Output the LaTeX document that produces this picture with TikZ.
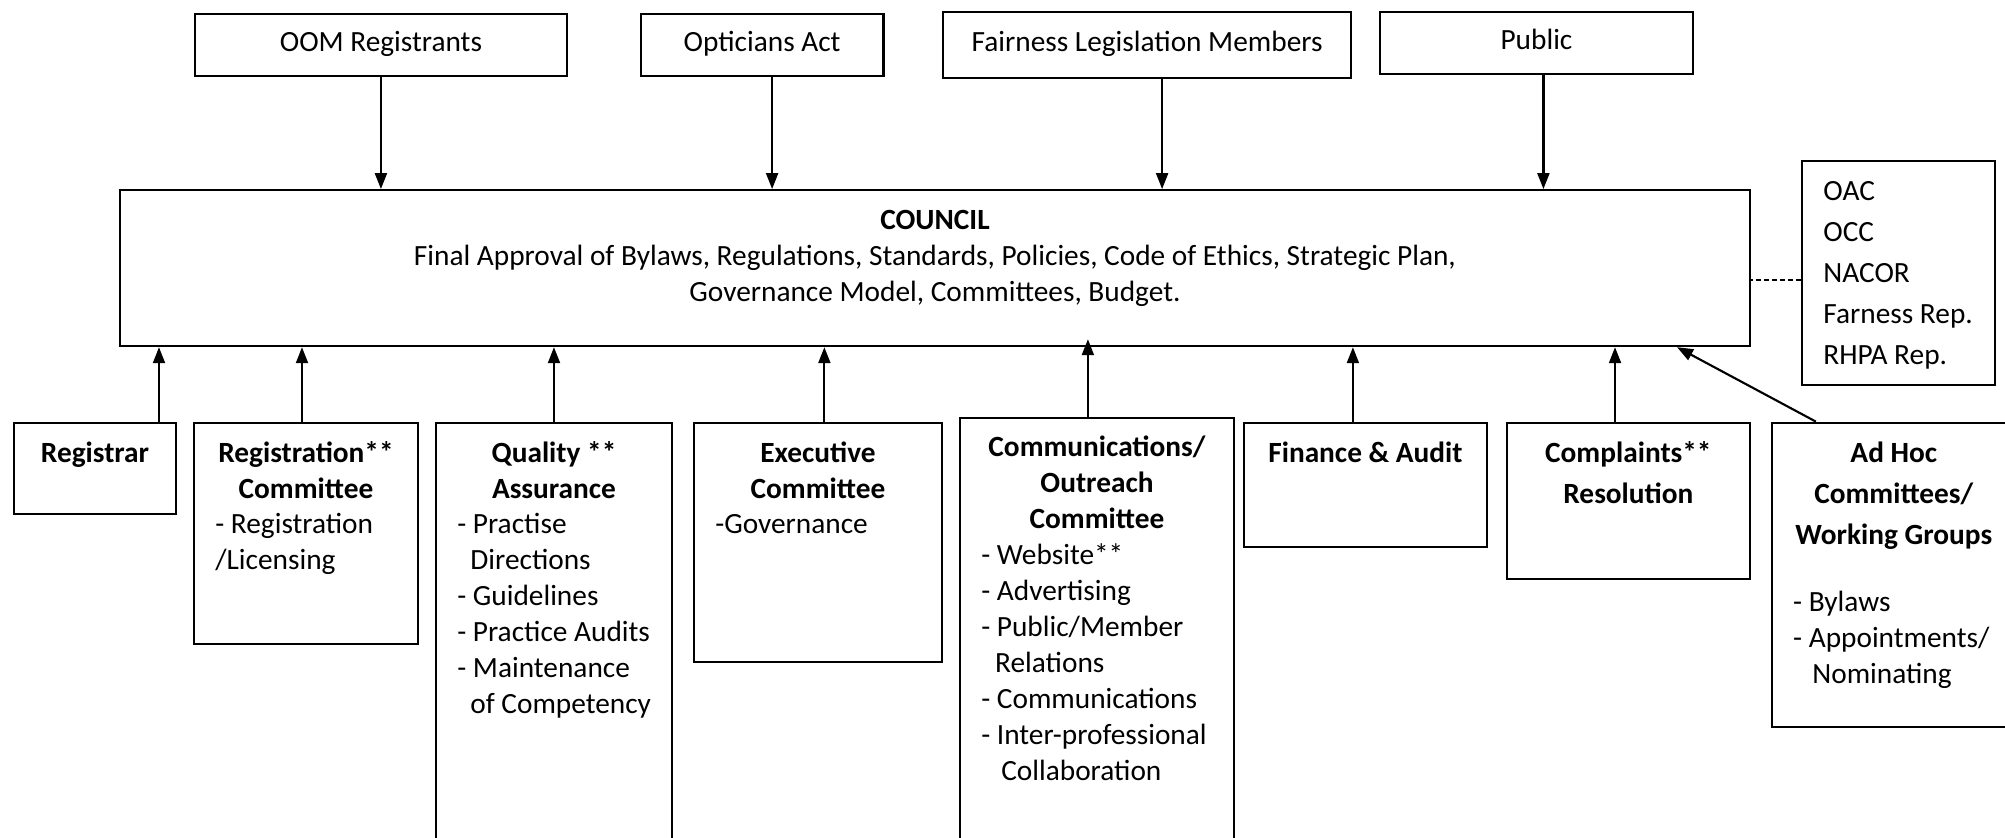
\documentclass[tikz,border=0pt]{standalone}
\usepackage{fontspec}
\setmainfont{Carlito}
\usetikzlibrary{positioning}
\usetikzlibrary{arrows.meta}

\newcommand{\boxtitle}[1]{\makebox[\linewidth]{\bfseries #1}}

\begin{document}
\begin{tikzpicture}[
    box/.style={draw, rectangle, line width=0.8pt, inner xsep=8pt, inner ysep=4pt, text height=10.75pt, align=flush left, font=\fontsize{11pt}{13.5pt}\selectfont},
    source/.style={draw, rectangle, line width=0.8pt, minimum height=23.25pt, text height=7.6pt, text depth=2.4pt, font=\fontsize{11pt}{13.5pt}\selectfont},
    link/.style={-{Triangle[length=6pt, width=4.5pt]}, line width=0.8pt}
]

    \useasboundingbox (0,0) rectangle (751.9pt,-314.25pt);

    \node[box, align=flush center, anchor=north west, text width=595.25pt, text depth=39.75pt] (council) at (44.6pt,-70.9pt) { \textbf{COUNCIL}\\Final Approval of Bylaws, Regulations, Standards, Policies, Code of Ethics, Strategic Plan,\\Governance Model, Committees, Budget. };

    \node[source, minimum width=139.5pt, above right=42pt and 28.1pt of council.north west] (oom) { OOM Registrants };
    \node[source, minimum width=91pt, right=26.9pt of oom] (optact) { Opticians Act };
    \node[source, minimum width=153pt, minimum height=24.75pt, right=21.6pt of optact] (fairness) { Fairness Legislation Members };
    \node[source, minimum width=117.4pt, right=10pt of fairness, yshift=0.8pt] (public) { Public };

    \node[box, font=\fontsize{11pt}{15.4pt}\selectfont, right=18.75pt of council.north east, anchor=north west, yshift=10.9pt, text width=56.4pt, text depth=65.25pt] (reps) { OAC\\OCC\\NACOR\\\mbox{Farness Rep.}\\\mbox{RHPA Rep.} };

    \node[box, below=27.9pt of council.south west, anchor=north west, xshift=-39.75pt, text width=44.75pt, text depth=15.4pt] (registrar) { \boxtitle{Registrar} };
    \node[box, right=5.95pt of registrar.north east, anchor=north west, text width=68pt, text depth=64.1pt] (registration) { \boxtitle{Registration**}\\\boxtitle{Committee}\\- Registration\\/Licensing };
    \node[box, right=5.95pt of registration.north east, anchor=north west, text width=72.5pt, text depth=139.9pt] (quality) { \boxtitle{Quality **}\\\boxtitle{Assurance}\\- Practise\\\hspace*{4.9pt}Directions\\- Guidelines\\\mbox{- Practice Audits}\\- Maintenance\\\hspace*{4.9pt}\mbox{of Competency} };
    \node[box, right=7.45pt of quality.north east, anchor=north west, text width=77pt, text depth=70.9pt] (executive) { \boxtitle{Executive}\\\boxtitle{Committee}\\-Governance };
    \node[box, right=5.95pt of executive.north east, anchor=north west, yshift=1.9pt, text width=86.75pt, text depth=141.75pt] (outreach) { \boxtitle{Communications/}\\\boxtitle{Outreach}\\\boxtitle{Committee}\\- Website**\\- Advertising\\- Public/Member\\\hspace*{5.2pt}Relations\\- Communications\\\mbox{- Inter-professional}\\\hspace*{7.5pt}Collaboration };
    \node[box, right=2.95pt of outreach.north east, anchor=north west, yshift=-1.9pt, text width=75.1pt, text depth=27.75pt] (finance) { \boxtitle{Finance \& Audit} };
    \node[box, right=6.7pt of finance.north east, anchor=north west, text width=75.1pt, text depth=39.75pt] (complaints) { \boxtitle{Complaints**}\\[1.9pt]\boxtitle{Resolution} };
    \node[box, right=7.45pt of complaints.north east, anchor=north west, inner xsep=4pt, text width=83.5pt, text depth=95.25pt] (adhoc) { \boxtitle{Ad Hoc}\\[2pt]\boxtitle{Committees/}\\[2pt]\boxtitle{Working Groups}\\[11.5pt]\hspace*{4pt}- Bylaws\\\hspace*{4pt}- Appointments/\\\hspace*{11.2pt}Nominating };

    \draw[link] (oom) -- (oom |- council.north);
    \draw[link] ([xshift=3.75pt]optact.south) -- ([xshift=3.75pt]optact.south |- council.north);
    \draw[link] ([xshift=5.6pt]fairness.south) -- ([xshift=5.6pt]fairness.south |- council.north);
    \draw[link] ([xshift=2.6pt]public.south) -- ([xshift=2.6pt]public.south |- council.north);

    \draw[dash pattern=on 2pt off 1pt, line width=0.6pt] ([yshift=-2.6pt]reps.west) -- ([yshift=-2.6pt]reps.west -| council.east);

    \draw[link] ([xshift=24pt]registrar.north) -- ([xshift=24pt]registrar.north |- council.south);
    \draw[link] ([xshift=-1.5pt]registration.north) -- ([xshift=-1.5pt]registration.north |- council.south);
    \draw[link] (quality.north) -- (quality.north |- council.south);
    \draw[link] ([xshift=2.4pt]executive.north) -- ([xshift=2.4pt]executive.north |- council.south);
    \draw[link, shorten >=-3pt] ([xshift=-3.4pt]outreach.north) -- ([xshift=-3.4pt]outreach.north |- council.south);
    \draw[link] ([xshift=-4.7pt]finance.north) -- ([xshift=-4.7pt]finance.north |- council.south);
    \draw[link] ([xshift=-5pt]complaints.north) -- ([xshift=-5pt]complaints.north |- council.south);
    \draw[link] ([xshift=16.9pt]adhoc.north west) -- ([xshift=-27.75pt]council.south east);

\end{tikzpicture}
\end{document}
